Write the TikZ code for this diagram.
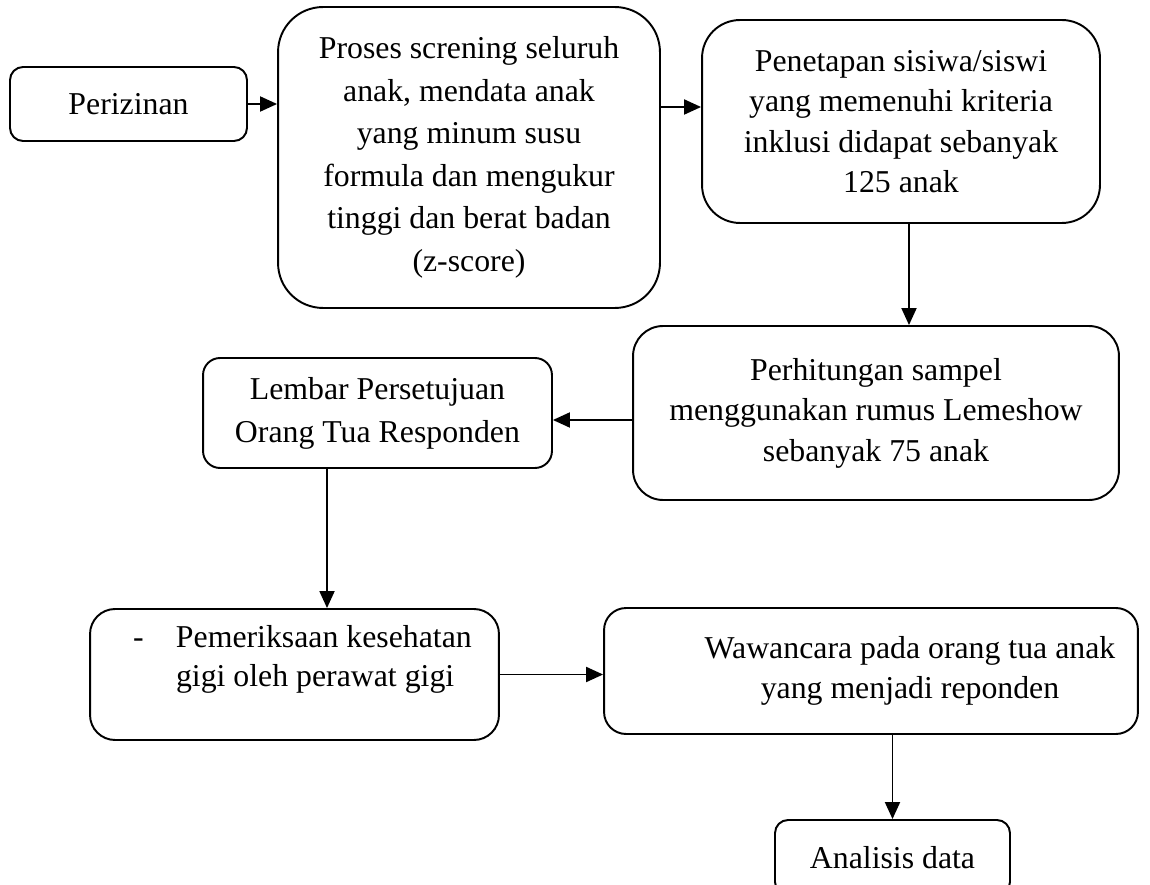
\documentclass[tikz,border=0pt]{standalone}
\usepackage{fontspec}
\setmainfont{Liberation Serif}
\usetikzlibrary{arrows.meta}

\begin{document}
\begin{tikzpicture}[
		x=0.02cm, y=-0.02cm,
		box/.style={draw, line width=1.1pt, align=center, inner sep=0pt,
			font=\fontsize{18.1}{23}\selectfont},
		arr/.style={-{Triangle[length=0.34cm, width=0.3cm]}, line width=1.1pt}
	]
	\useasboundingbox (0,0) rectangle (1150,885);

	\node[box, rounded corners=0.26cm, minimum width=4.74cm, minimum height=1.48cm] (periz) at (128.5,104) {Perizinan};
	\node[box, rounded corners=0.9cm, minimum width=7.64cm, minimum height=6.02cm,
		font=\fontsize{18.1}{24.2}\selectfont] (screen) at (469,157.5)
		{Proses screning seluruh\\anak, mendata anak\\yang minum susu\\formula dan mengukur\\tinggi dan berat badan\\(z-score)};
	\node[box, rounded corners=0.76cm, minimum width=7.96cm, minimum height=4.06cm] (penet) at (901,121.5)
		{Penetapan sisiwa/siswi\\yang memenuhi kriteria\\inklusi didapat sebanyak\\125 anak};
	\node[box, rounded corners=0.6cm, minimum width=9.72cm, minimum height=3.48cm] (perhit) at (876,413)
		{Perhitungan sampel\\menggunakan rumus Lemeshow\\sebanyak 75 anak};
	\node[box, rounded corners=0.34cm, minimum width=6.98cm, minimum height=2.2cm,
		font=\fontsize{18.1}{24.4}\selectfont] (lembar) at (377.5,413)
		{Lembar Persetujuan\\Orang Tua Responden};
	\node[box, rounded corners=0.5cm, text width=8.18cm, minimum height=2.62cm, align=flush left,
		font=\fontsize{18.1}{21.8}\selectfont] (pemer) at (294.5,674.5)
		{\makebox[1.72cm][l]{\hspace*{0.86cm}-}Pemeriksaan kesehatan\\\hspace*{1.72cm}gigi oleh perawat gigi\vspace{0.6cm}};
	\node[box, rounded corners=0.44cm, minimum width=10.68cm, minimum height=2.52cm] (wawan) at (871,671)
		{\hspace*{1.56cm}Wawancara pada orang tua anak\\\hspace*{1.56cm}yang menjadi reponden};
	\node[box, rounded corners=0.26cm, minimum width=4.7cm, minimum height=1.5cm] (anal) at (892.5,857.5) {Analisis data};

	\draw[arr] (periz.east) -- (periz.east -| screen.west);
	\draw[arr] ([yshift=-0.06cm]periz.east -| screen.east) -- ([yshift=-0.06cm]periz.east -| penet.west);
	\draw[arr] ([xshift=0.16cm]penet.south) -- ([xshift=0.16cm]penet.south |- perhit.north);
	\draw[arr] ([yshift=-0.14cm]perhit.west) -- ([yshift=-0.14cm]perhit.west -| lembar.east);
	\draw[arr] ([xshift=-1.01cm]lembar.south) -- ([xshift=-1.01cm]lembar.south |- pemer.north);
	\draw[arr] (pemer.east) -- (pemer.east -| wawan.west);
	\draw[arr] (anal.north |- wawan.south) -- (anal.north);
\end{tikzpicture}
\end{document}
